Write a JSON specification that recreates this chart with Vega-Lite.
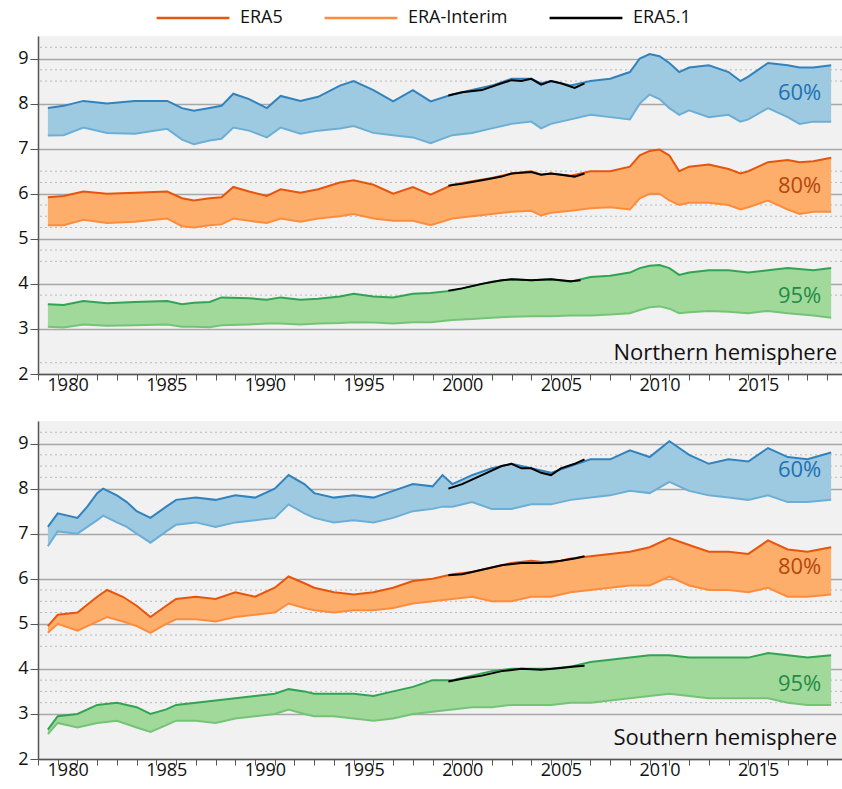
{
"$schema": "https://vega.github.io/schema/vega-lite/v6.json",
"padding": {"left": 17, "top": -20, "right": 0, "bottom": 0},
"config": {"view": {"fill": "#f1f1f1", "stroke": null}, "font": "Open Sans", "concat": {"spacing": 27}},
"datasets": {
"bands": [
{"h":"N","p":"60","t":1979.5,"a":7.9,"b":7.29},{"h":"N","p":"60","t":1980.3,"a":7.95,"b":7.3},{"h":"N","p":"60","t":1981.3,"a":8.06,"b":7.47},{"h":"N","p":"60","t":1982.5,"a":8.0,"b":7.35},{"h":"N","p":"60","t":1983.9,"a":8.06,"b":7.33},{"h":"N","p":"60","t":1985.55,"a":8.06,"b":7.44},{"h":"N","p":"60","t":1986.3,"a":7.9,"b":7.2},{"h":"N","p":"60","t":1986.9,"a":7.84,"b":7.1},{"h":"N","p":"60","t":1987.7,"a":7.9,"b":7.18},{"h":"N","p":"60","t":1988.3,"a":7.95,"b":7.22},{"h":"N","p":"60","t":1988.9,"a":8.22,"b":7.47},{"h":"N","p":"60","t":1989.7,"a":8.1,"b":7.4},{"h":"N","p":"60","t":1990.6,"a":7.9,"b":7.25},{"h":"N","p":"60","t":1991.3,"a":8.17,"b":7.47},{"h":"N","p":"60","t":1992.3,"a":8.06,"b":7.33},{"h":"N","p":"60","t":1993.2,"a":8.15,"b":7.4},{"h":"N","p":"60","t":1994.3,"a":8.4,"b":7.45},{"h":"N","p":"60","t":1995.0,"a":8.5,"b":7.5},{"h":"N","p":"60","t":1996.0,"a":8.3,"b":7.35},{"h":"N","p":"60","t":1997.0,"a":8.05,"b":7.3},{"h":"N","p":"60","t":1998.0,"a":8.3,"b":7.25},{"h":"N","p":"60","t":1998.9,"a":8.05,"b":7.12},{"h":"N","p":"60","t":2000.0,"a":8.2,"b":7.3},{"h":"N","p":"60","t":2001.0,"a":8.3,"b":7.35},{"h":"N","p":"60","t":2002.0,"a":8.4,"b":7.45},{"h":"N","p":"60","t":2003.0,"a":8.55,"b":7.55},{"h":"N","p":"60","t":2004.0,"a":8.55,"b":7.6},{"h":"N","p":"60","t":2004.5,"a":8.45,"b":7.45},{"h":"N","p":"60","t":2005.0,"a":8.5,"b":7.55},{"h":"N","p":"60","t":2006.0,"a":8.4,"b":7.65},{"h":"N","p":"60","t":2007.0,"a":8.5,"b":7.75},{"h":"N","p":"60","t":2008.0,"a":8.55,"b":7.7},{"h":"N","p":"60","t":2009.0,"a":8.7,"b":7.65},{"h":"N","p":"60","t":2009.5,"a":9.0,"b":8.0},{"h":"N","p":"60","t":2010.0,"a":9.1,"b":8.2},{"h":"N","p":"60","t":2010.5,"a":9.05,"b":8.1},{"h":"N","p":"60","t":2011.0,"a":8.9,"b":7.9},{"h":"N","p":"60","t":2011.5,"a":8.7,"b":7.75},{"h":"N","p":"60","t":2012.0,"a":8.8,"b":7.85},{"h":"N","p":"60","t":2013.0,"a":8.85,"b":7.7},{"h":"N","p":"60","t":2014.0,"a":8.7,"b":7.75},{"h":"N","p":"60","t":2014.6,"a":8.5,"b":7.6},{"h":"N","p":"60","t":2015.0,"a":8.6,"b":7.65},{"h":"N","p":"60","t":2016.0,"a":8.9,"b":7.9},{"h":"N","p":"60","t":2017.0,"a":8.85,"b":7.7},{"h":"N","p":"60","t":2017.6,"a":8.8,"b":7.55},{"h":"N","p":"60","t":2018.3,"a":8.8,"b":7.6},{"h":"N","p":"60","t":2019.2,"a":8.85,"b":7.6},
{"h":"N","p":"80","t":1979.5,"a":5.92,"b":5.3},{"h":"N","p":"80","t":1980.3,"a":5.95,"b":5.3},{"h":"N","p":"80","t":1981.3,"a":6.05,"b":5.42},{"h":"N","p":"80","t":1982.5,"a":6.0,"b":5.35},{"h":"N","p":"80","t":1983.9,"a":6.02,"b":5.38},{"h":"N","p":"80","t":1985.55,"a":6.05,"b":5.45},{"h":"N","p":"80","t":1986.3,"a":5.9,"b":5.28},{"h":"N","p":"80","t":1986.9,"a":5.85,"b":5.25},{"h":"N","p":"80","t":1987.7,"a":5.9,"b":5.3},{"h":"N","p":"80","t":1988.3,"a":5.92,"b":5.32},{"h":"N","p":"80","t":1988.9,"a":6.15,"b":5.45},{"h":"N","p":"80","t":1989.7,"a":6.05,"b":5.4},{"h":"N","p":"80","t":1990.6,"a":5.95,"b":5.35},{"h":"N","p":"80","t":1991.3,"a":6.1,"b":5.45},{"h":"N","p":"80","t":1992.3,"a":6.02,"b":5.38},{"h":"N","p":"80","t":1993.2,"a":6.1,"b":5.45},{"h":"N","p":"80","t":1994.3,"a":6.25,"b":5.5},{"h":"N","p":"80","t":1995.0,"a":6.3,"b":5.55},{"h":"N","p":"80","t":1996.0,"a":6.2,"b":5.45},{"h":"N","p":"80","t":1997.0,"a":6.0,"b":5.4},{"h":"N","p":"80","t":1998.0,"a":6.15,"b":5.4},{"h":"N","p":"80","t":1998.9,"a":5.98,"b":5.3},{"h":"N","p":"80","t":2000.0,"a":6.2,"b":5.45},{"h":"N","p":"80","t":2001.0,"a":6.28,"b":5.5},{"h":"N","p":"80","t":2002.0,"a":6.35,"b":5.55},{"h":"N","p":"80","t":2003.0,"a":6.45,"b":5.6},{"h":"N","p":"80","t":2004.0,"a":6.5,"b":5.62},{"h":"N","p":"80","t":2004.5,"a":6.42,"b":5.52},{"h":"N","p":"80","t":2005.0,"a":6.45,"b":5.58},{"h":"N","p":"80","t":2006.0,"a":6.4,"b":5.62},{"h":"N","p":"80","t":2007.0,"a":6.5,"b":5.68},{"h":"N","p":"80","t":2008.0,"a":6.5,"b":5.7},{"h":"N","p":"80","t":2009.0,"a":6.6,"b":5.65},{"h":"N","p":"80","t":2009.5,"a":6.85,"b":5.9},{"h":"N","p":"80","t":2010.0,"a":6.95,"b":6.0},{"h":"N","p":"80","t":2010.5,"a":6.98,"b":6.0},{"h":"N","p":"80","t":2011.0,"a":6.85,"b":5.85},{"h":"N","p":"80","t":2011.5,"a":6.5,"b":5.75},{"h":"N","p":"80","t":2012.0,"a":6.6,"b":5.8},{"h":"N","p":"80","t":2013.0,"a":6.65,"b":5.8},{"h":"N","p":"80","t":2014.0,"a":6.55,"b":5.75},{"h":"N","p":"80","t":2014.6,"a":6.45,"b":5.65},{"h":"N","p":"80","t":2015.0,"a":6.5,"b":5.7},{"h":"N","p":"80","t":2016.0,"a":6.7,"b":5.85},{"h":"N","p":"80","t":2017.0,"a":6.75,"b":5.65},{"h":"N","p":"80","t":2017.6,"a":6.7,"b":5.55},{"h":"N","p":"80","t":2018.3,"a":6.72,"b":5.6},{"h":"N","p":"80","t":2019.2,"a":6.8,"b":5.6},
{"h":"N","p":"95","t":1979.5,"a":3.55,"b":3.05},{"h":"N","p":"95","t":1980.3,"a":3.53,"b":3.03},{"h":"N","p":"95","t":1981.3,"a":3.62,"b":3.1},{"h":"N","p":"95","t":1982.5,"a":3.57,"b":3.07},{"h":"N","p":"95","t":1983.9,"a":3.6,"b":3.08},{"h":"N","p":"95","t":1985.55,"a":3.62,"b":3.1},{"h":"N","p":"95","t":1986.3,"a":3.55,"b":3.05},{"h":"N","p":"95","t":1986.9,"a":3.58,"b":3.05},{"h":"N","p":"95","t":1987.7,"a":3.6,"b":3.04},{"h":"N","p":"95","t":1988.3,"a":3.7,"b":3.08},{"h":"N","p":"95","t":1989.7,"a":3.68,"b":3.1},{"h":"N","p":"95","t":1990.6,"a":3.65,"b":3.12},{"h":"N","p":"95","t":1991.3,"a":3.7,"b":3.12},{"h":"N","p":"95","t":1992.3,"a":3.65,"b":3.1},{"h":"N","p":"95","t":1993.2,"a":3.67,"b":3.12},{"h":"N","p":"95","t":1994.3,"a":3.72,"b":3.13},{"h":"N","p":"95","t":1995.0,"a":3.78,"b":3.15},{"h":"N","p":"95","t":1996.0,"a":3.72,"b":3.14},{"h":"N","p":"95","t":1997.0,"a":3.7,"b":3.12},{"h":"N","p":"95","t":1998.0,"a":3.78,"b":3.15},{"h":"N","p":"95","t":1998.9,"a":3.8,"b":3.15},{"h":"N","p":"95","t":2000.0,"a":3.85,"b":3.2},{"h":"N","p":"95","t":2001.0,"a":3.95,"b":3.22},{"h":"N","p":"95","t":2002.0,"a":4.05,"b":3.25},{"h":"N","p":"95","t":2003.0,"a":4.1,"b":3.27},{"h":"N","p":"95","t":2004.0,"a":4.08,"b":3.28},{"h":"N","p":"95","t":2005.0,"a":4.1,"b":3.28},{"h":"N","p":"95","t":2006.0,"a":4.05,"b":3.3},{"h":"N","p":"95","t":2007.0,"a":4.15,"b":3.3},{"h":"N","p":"95","t":2008.0,"a":4.18,"b":3.32},{"h":"N","p":"95","t":2009.0,"a":4.25,"b":3.35},{"h":"N","p":"95","t":2009.5,"a":4.35,"b":3.42},{"h":"N","p":"95","t":2010.0,"a":4.4,"b":3.48},{"h":"N","p":"95","t":2010.5,"a":4.42,"b":3.5},{"h":"N","p":"95","t":2011.0,"a":4.35,"b":3.45},{"h":"N","p":"95","t":2011.5,"a":4.2,"b":3.35},{"h":"N","p":"95","t":2012.0,"a":4.25,"b":3.37},{"h":"N","p":"95","t":2013.0,"a":4.3,"b":3.4},{"h":"N","p":"95","t":2014.0,"a":4.3,"b":3.38},{"h":"N","p":"95","t":2015.0,"a":4.25,"b":3.35},{"h":"N","p":"95","t":2016.0,"a":4.3,"b":3.4},{"h":"N","p":"95","t":2017.0,"a":4.35,"b":3.35},{"h":"N","p":"95","t":2018.3,"a":4.3,"b":3.3},{"h":"N","p":"95","t":2019.2,"a":4.35,"b":3.25},
{"h":"S","p":"60","t":1979.5,"a":7.15,"b":6.72},{"h":"S","p":"60","t":1980.0,"a":7.45,"b":7.05},{"h":"S","p":"60","t":1981.0,"a":7.35,"b":7.0},{"h":"S","p":"60","t":1981.5,"a":7.6,"b":7.15},{"h":"S","p":"60","t":1982.0,"a":7.9,"b":7.3},{"h":"S","p":"60","t":1982.3,"a":8.0,"b":7.4},{"h":"S","p":"60","t":1983.0,"a":7.85,"b":7.25},{"h":"S","p":"60","t":1983.5,"a":7.7,"b":7.15},{"h":"S","p":"60","t":1984.0,"a":7.5,"b":7.0},{"h":"S","p":"60","t":1984.7,"a":7.35,"b":6.8},{"h":"S","p":"60","t":1985.5,"a":7.6,"b":7.05},{"h":"S","p":"60","t":1986.0,"a":7.75,"b":7.2},{"h":"S","p":"60","t":1987.0,"a":7.8,"b":7.25},{"h":"S","p":"60","t":1988.0,"a":7.75,"b":7.15},{"h":"S","p":"60","t":1989.0,"a":7.85,"b":7.25},{"h":"S","p":"60","t":1990.0,"a":7.8,"b":7.3},{"h":"S","p":"60","t":1991.0,"a":8.0,"b":7.35},{"h":"S","p":"60","t":1991.7,"a":8.3,"b":7.65},{"h":"S","p":"60","t":1992.5,"a":8.1,"b":7.45},{"h":"S","p":"60","t":1993.0,"a":7.9,"b":7.35},{"h":"S","p":"60","t":1994.0,"a":7.8,"b":7.25},{"h":"S","p":"60","t":1995.0,"a":7.85,"b":7.3},{"h":"S","p":"60","t":1996.0,"a":7.8,"b":7.25},{"h":"S","p":"60","t":1997.0,"a":7.95,"b":7.35},{"h":"S","p":"60","t":1998.0,"a":8.1,"b":7.5},{"h":"S","p":"60","t":1999.0,"a":8.05,"b":7.55},{"h":"S","p":"60","t":1999.5,"a":8.3,"b":7.6},{"h":"S","p":"60","t":2000.0,"a":8.1,"b":7.6},{"h":"S","p":"60","t":2001.0,"a":8.3,"b":7.7},{"h":"S","p":"60","t":2002.0,"a":8.45,"b":7.55},{"h":"S","p":"60","t":2003.0,"a":8.55,"b":7.55},{"h":"S","p":"60","t":2004.0,"a":8.45,"b":7.65},{"h":"S","p":"60","t":2005.0,"a":8.35,"b":7.65},{"h":"S","p":"60","t":2006.0,"a":8.5,"b":7.75},{"h":"S","p":"60","t":2007.0,"a":8.65,"b":7.8},{"h":"S","p":"60","t":2008.0,"a":8.65,"b":7.85},{"h":"S","p":"60","t":2009.0,"a":8.85,"b":7.95},{"h":"S","p":"60","t":2010.0,"a":8.7,"b":7.9},{"h":"S","p":"60","t":2011.0,"a":9.05,"b":8.15},{"h":"S","p":"60","t":2011.5,"a":8.9,"b":8.05},{"h":"S","p":"60","t":2012.0,"a":8.75,"b":7.95},{"h":"S","p":"60","t":2013.0,"a":8.55,"b":7.85},{"h":"S","p":"60","t":2014.0,"a":8.65,"b":7.8},{"h":"S","p":"60","t":2015.0,"a":8.6,"b":7.75},{"h":"S","p":"60","t":2016.0,"a":8.9,"b":7.85},{"h":"S","p":"60","t":2017.0,"a":8.7,"b":7.7},{"h":"S","p":"60","t":2018.0,"a":8.65,"b":7.7},{"h":"S","p":"60","t":2019.2,"a":8.8,"b":7.75},
{"h":"S","p":"80","t":1979.5,"a":4.95,"b":4.8},{"h":"S","p":"80","t":1980.0,"a":5.2,"b":5.0},{"h":"S","p":"80","t":1981.0,"a":5.25,"b":4.85},{"h":"S","p":"80","t":1982.0,"a":5.6,"b":5.05},{"h":"S","p":"80","t":1982.5,"a":5.75,"b":5.15},{"h":"S","p":"80","t":1983.3,"a":5.6,"b":5.05},{"h":"S","p":"80","t":1984.0,"a":5.4,"b":4.95},{"h":"S","p":"80","t":1984.7,"a":5.15,"b":4.8},{"h":"S","p":"80","t":1985.5,"a":5.4,"b":5.0},{"h":"S","p":"80","t":1986.0,"a":5.55,"b":5.1},{"h":"S","p":"80","t":1987.0,"a":5.6,"b":5.1},{"h":"S","p":"80","t":1988.0,"a":5.55,"b":5.05},{"h":"S","p":"80","t":1989.0,"a":5.7,"b":5.15},{"h":"S","p":"80","t":1990.0,"a":5.6,"b":5.2},{"h":"S","p":"80","t":1991.0,"a":5.8,"b":5.25},{"h":"S","p":"80","t":1991.7,"a":6.05,"b":5.45},{"h":"S","p":"80","t":1992.5,"a":5.9,"b":5.35},{"h":"S","p":"80","t":1993.0,"a":5.8,"b":5.3},{"h":"S","p":"80","t":1994.0,"a":5.7,"b":5.25},{"h":"S","p":"80","t":1995.0,"a":5.65,"b":5.3},{"h":"S","p":"80","t":1996.0,"a":5.7,"b":5.3},{"h":"S","p":"80","t":1997.0,"a":5.8,"b":5.35},{"h":"S","p":"80","t":1998.0,"a":5.95,"b":5.45},{"h":"S","p":"80","t":1999.0,"a":6.0,"b":5.5},{"h":"S","p":"80","t":2000.0,"a":6.1,"b":5.55},{"h":"S","p":"80","t":2001.0,"a":6.15,"b":5.6},{"h":"S","p":"80","t":2002.0,"a":6.25,"b":5.5},{"h":"S","p":"80","t":2003.0,"a":6.35,"b":5.5},{"h":"S","p":"80","t":2004.0,"a":6.4,"b":5.6},{"h":"S","p":"80","t":2005.0,"a":6.35,"b":5.6},{"h":"S","p":"80","t":2006.0,"a":6.45,"b":5.7},{"h":"S","p":"80","t":2007.0,"a":6.5,"b":5.75},{"h":"S","p":"80","t":2008.0,"a":6.55,"b":5.8},{"h":"S","p":"80","t":2009.0,"a":6.6,"b":5.85},{"h":"S","p":"80","t":2010.0,"a":6.7,"b":5.85},{"h":"S","p":"80","t":2011.0,"a":6.9,"b":6.05},{"h":"S","p":"80","t":2012.0,"a":6.75,"b":5.85},{"h":"S","p":"80","t":2013.0,"a":6.6,"b":5.75},{"h":"S","p":"80","t":2014.0,"a":6.6,"b":5.75},{"h":"S","p":"80","t":2015.0,"a":6.55,"b":5.7},{"h":"S","p":"80","t":2016.0,"a":6.85,"b":5.8},{"h":"S","p":"80","t":2017.0,"a":6.65,"b":5.6},{"h":"S","p":"80","t":2018.0,"a":6.6,"b":5.6},{"h":"S","p":"80","t":2019.2,"a":6.7,"b":5.65},
{"h":"S","p":"95","t":1979.5,"a":2.65,"b":2.55},{"h":"S","p":"95","t":1980.0,"a":2.95,"b":2.8},{"h":"S","p":"95","t":1981.0,"a":3.0,"b":2.7},{"h":"S","p":"95","t":1982.0,"a":3.2,"b":2.8},{"h":"S","p":"95","t":1983.0,"a":3.25,"b":2.85},{"h":"S","p":"95","t":1984.0,"a":3.15,"b":2.7},{"h":"S","p":"95","t":1984.7,"a":3.0,"b":2.6},{"h":"S","p":"95","t":1985.5,"a":3.1,"b":2.75},{"h":"S","p":"95","t":1986.0,"a":3.2,"b":2.85},{"h":"S","p":"95","t":1987.0,"a":3.25,"b":2.85},{"h":"S","p":"95","t":1988.0,"a":3.3,"b":2.8},{"h":"S","p":"95","t":1989.0,"a":3.35,"b":2.9},{"h":"S","p":"95","t":1990.0,"a":3.4,"b":2.95},{"h":"S","p":"95","t":1991.0,"a":3.45,"b":3.0},{"h":"S","p":"95","t":1991.7,"a":3.55,"b":3.1},{"h":"S","p":"95","t":1992.5,"a":3.5,"b":3.0},{"h":"S","p":"95","t":1993.0,"a":3.45,"b":2.95},{"h":"S","p":"95","t":1994.0,"a":3.45,"b":2.95},{"h":"S","p":"95","t":1995.0,"a":3.45,"b":2.9},{"h":"S","p":"95","t":1996.0,"a":3.4,"b":2.85},{"h":"S","p":"95","t":1997.0,"a":3.5,"b":2.9},{"h":"S","p":"95","t":1998.0,"a":3.6,"b":3.0},{"h":"S","p":"95","t":1999.0,"a":3.75,"b":3.05},{"h":"S","p":"95","t":2000.0,"a":3.75,"b":3.1},{"h":"S","p":"95","t":2001.0,"a":3.85,"b":3.15},{"h":"S","p":"95","t":2002.0,"a":3.95,"b":3.15},{"h":"S","p":"95","t":2003.0,"a":4.0,"b":3.2},{"h":"S","p":"95","t":2004.0,"a":4.0,"b":3.2},{"h":"S","p":"95","t":2005.0,"a":4.0,"b":3.2},{"h":"S","p":"95","t":2006.0,"a":4.05,"b":3.25},{"h":"S","p":"95","t":2007.0,"a":4.15,"b":3.25},{"h":"S","p":"95","t":2008.0,"a":4.2,"b":3.3},{"h":"S","p":"95","t":2009.0,"a":4.25,"b":3.35},{"h":"S","p":"95","t":2010.0,"a":4.3,"b":3.4},{"h":"S","p":"95","t":2011.0,"a":4.3,"b":3.45},{"h":"S","p":"95","t":2012.0,"a":4.25,"b":3.4},{"h":"S","p":"95","t":2013.0,"a":4.25,"b":3.35},{"h":"S","p":"95","t":2014.0,"a":4.25,"b":3.35},{"h":"S","p":"95","t":2015.0,"a":4.25,"b":3.35},{"h":"S","p":"95","t":2016.0,"a":4.35,"b":3.35},{"h":"S","p":"95","t":2017.0,"a":4.3,"b":3.25},{"h":"S","p":"95","t":2018.0,"a":4.25,"b":3.2},{"h":"S","p":"95","t":2019.2,"a":4.3,"b":3.2}
],
"e51": [
{"h":"N","p":"60","src":"ERA5.1","t":1999.8,"v":8.18},{"h":"N","p":"60","src":"ERA5.1","t":2000.5,"v":8.25},{"h":"N","p":"60","src":"ERA5.1","t":2001.5,"v":8.3},{"h":"N","p":"60","src":"ERA5.1","t":2002.5,"v":8.45},{"h":"N","p":"60","src":"ERA5.1","t":2003.0,"v":8.52},{"h":"N","p":"60","src":"ERA5.1","t":2003.5,"v":8.5},{"h":"N","p":"60","src":"ERA5.1","t":2004.0,"v":8.55},{"h":"N","p":"60","src":"ERA5.1","t":2004.5,"v":8.42},{"h":"N","p":"60","src":"ERA5.1","t":2005.0,"v":8.5},{"h":"N","p":"60","src":"ERA5.1","t":2005.5,"v":8.45},{"h":"N","p":"60","src":"ERA5.1","t":2006.2,"v":8.35},{"h":"N","p":"60","src":"ERA5.1","t":2006.7,"v":8.45},
{"h":"N","p":"80","src":"ERA5.1","t":1999.8,"v":6.18},{"h":"N","p":"80","src":"ERA5.1","t":2000.5,"v":6.22},{"h":"N","p":"80","src":"ERA5.1","t":2001.5,"v":6.3},{"h":"N","p":"80","src":"ERA5.1","t":2002.5,"v":6.38},{"h":"N","p":"80","src":"ERA5.1","t":2003.0,"v":6.45},{"h":"N","p":"80","src":"ERA5.1","t":2004.0,"v":6.48},{"h":"N","p":"80","src":"ERA5.1","t":2004.5,"v":6.42},{"h":"N","p":"80","src":"ERA5.1","t":2005.0,"v":6.45},{"h":"N","p":"80","src":"ERA5.1","t":2005.5,"v":6.42},{"h":"N","p":"80","src":"ERA5.1","t":2006.2,"v":6.38},{"h":"N","p":"80","src":"ERA5.1","t":2006.7,"v":6.45},
{"h":"N","p":"95","src":"ERA5.1","t":1999.8,"v":3.85},{"h":"N","p":"95","src":"ERA5.1","t":2000.5,"v":3.9},{"h":"N","p":"95","src":"ERA5.1","t":2001.5,"v":4.0},{"h":"N","p":"95","src":"ERA5.1","t":2002.5,"v":4.08},{"h":"N","p":"95","src":"ERA5.1","t":2003.0,"v":4.1},{"h":"N","p":"95","src":"ERA5.1","t":2004.0,"v":4.08},{"h":"N","p":"95","src":"ERA5.1","t":2005.0,"v":4.1},{"h":"N","p":"95","src":"ERA5.1","t":2006.0,"v":4.06},{"h":"N","p":"95","src":"ERA5.1","t":2006.5,"v":4.08},
{"h":"S","p":"60","src":"ERA5.1","t":1999.8,"v":8.0},{"h":"S","p":"60","src":"ERA5.1","t":2000.5,"v":8.1},{"h":"S","p":"60","src":"ERA5.1","t":2001.5,"v":8.3},{"h":"S","p":"60","src":"ERA5.1","t":2002.5,"v":8.5},{"h":"S","p":"60","src":"ERA5.1","t":2003.0,"v":8.55},{"h":"S","p":"60","src":"ERA5.1","t":2003.5,"v":8.45},{"h":"S","p":"60","src":"ERA5.1","t":2004.0,"v":8.45},{"h":"S","p":"60","src":"ERA5.1","t":2004.5,"v":8.35},{"h":"S","p":"60","src":"ERA5.1","t":2005.0,"v":8.3},{"h":"S","p":"60","src":"ERA5.1","t":2005.5,"v":8.45},{"h":"S","p":"60","src":"ERA5.1","t":2006.2,"v":8.55},{"h":"S","p":"60","src":"ERA5.1","t":2006.7,"v":8.65},
{"h":"S","p":"80","src":"ERA5.1","t":1999.8,"v":6.08},{"h":"S","p":"80","src":"ERA5.1","t":2000.5,"v":6.1},{"h":"S","p":"80","src":"ERA5.1","t":2001.5,"v":6.2},{"h":"S","p":"80","src":"ERA5.1","t":2002.5,"v":6.3},{"h":"S","p":"80","src":"ERA5.1","t":2003.5,"v":6.35},{"h":"S","p":"80","src":"ERA5.1","t":2004.5,"v":6.35},{"h":"S","p":"80","src":"ERA5.1","t":2005.5,"v":6.4},{"h":"S","p":"80","src":"ERA5.1","t":2006.2,"v":6.45},{"h":"S","p":"80","src":"ERA5.1","t":2006.7,"v":6.5},
{"h":"S","p":"95","src":"ERA5.1","t":1999.8,"v":3.72},{"h":"S","p":"95","src":"ERA5.1","t":2000.5,"v":3.78},{"h":"S","p":"95","src":"ERA5.1","t":2001.5,"v":3.85},{"h":"S","p":"95","src":"ERA5.1","t":2002.5,"v":3.95},{"h":"S","p":"95","src":"ERA5.1","t":2003.5,"v":4.0},{"h":"S","p":"95","src":"ERA5.1","t":2004.5,"v":3.98},{"h":"S","p":"95","src":"ERA5.1","t":2005.5,"v":4.02},{"h":"S","p":"95","src":"ERA5.1","t":2006.2,"v":4.05},{"h":"S","p":"95","src":"ERA5.1","t":2006.7,"v":4.07}
],
"grid": [
{"h":"N","v":9.25},{"h":"N","v":8.75},{"h":"N","v":8.5},{"h":"N","v":6.5},{"h":"N","v":6.25},{"h":"N","v":5.75},{"h":"N","v":5.5},{"h":"N","v":5.25},{"h":"N","v":4.75},{"h":"N","v":4.5},{"h":"N","v":3.75},{"h":"N","v":2.25},
{"h":"S","v":9.25},{"h":"S","v":8.75},{"h":"S","v":8.5},{"h":"S","v":8.25},{"h":"S","v":5.75},{"h":"S","v":5.5},{"h":"S","v":5.25},{"h":"S","v":4.75},{"h":"S","v":4.5},{"h":"S","v":3.75},{"h":"S","v":3.5},{"h":"S","v":3.25}
],
"pct": [
{"h":"N","txt":"60%","t":2017.6,"v":8.24},{"h":"N","txt":"80%","t":2017.6,"v":6.18},{"h":"N","txt":"95%","t":2017.6,"v":3.72},
{"h":"S","txt":"60%","t":2017.6,"v":8.41},{"h":"S","txt":"80%","t":2017.6,"v":6.27},{"h":"S","txt":"95%","t":2017.6,"v":3.67}
],
"hemi": [
{"h":"N","txt":"Northern hemisphere","t":2019.5,"v":2.47},{"h":"S","txt":"Southern hemisphere","t":2019.5,"v":2.47}
]
},
"vconcat": [
{"width": 804, "height": 338,
 "resolve": {"axis": {"x": "independent"}},
 "layer": [
  {"data": {"name": "grid"}, "transform": [{"filter": "datum.h == 'N'"}], "mark": {"type": "rule", "color": "#b8b8b8", "strokeDash": [2, 3], "strokeWidth": 1},
   "encoding": {"y": {"field": "v", "type": "quantitative", "title": null, "scale": {"domain": [2, 9.5], "nice": false, "zero": false}}}},
  {"data": {"name": "bands"}, "transform": [{"filter": "datum.h == 'N'"}], "mark": {"type": "area", "opacity": 1},
   "encoding": {
    "x": {"field": "t", "type": "quantitative", "title": null, "scale": {"domain": [1979, 2019.75], "nice": false, "zero": false},
      "axis": {"orient": "bottom", "title": null, "values": [1979,1980,1981,1982,1983,1984,1985,1986,1987,1988,1989,1990,1991,1992,1993,1994,1995,1996,1997,1998,1999,2000,2001,2002,2003,2004,2005,2006,2007,2008,2009,2010,2011,2012,2013,2014,2015,2016,2017,2018,2019], "labels": false, "tickSize": 6, "tickColor": "#555", "domainColor": "#555", "domainWidth": 1.5, "grid": false}},
    "y": {"field": "a", "type": "quantitative", "title": null, "scale": {"domain": [2, 9.5], "nice": false, "zero": false},
      "axis": {"title": null, "values": [2,3,4,5,6,7,8,9], "grid": true, "gridColor": "#a8a8a8", "gridWidth": 1.3, "tickSize": 8, "tickColor": "#555", "domainColor": "#555", "domainWidth": 1.5, "labelFontSize": 18, "labelColor": "#111", "labelPadding": 2}},
    "y2": {"field": "b"},
    "fill": {"field": "p", "type": "nominal", "scale": {"domain": ["60","80","95"], "range": ["#9ecae1","#fdae6b","#a1d99b"]}, "legend": null}
   }},
  {"data": {"name": "bands"}, "transform": [{"filter": "datum.h == 'N'"}], "mark": {"type": "line", "strokeWidth": 2},
   "encoding": {
    "x": {"field": "t", "type": "quantitative", "title": null,
      "axis": {"orient": "bottom", "title": null, "values": [1980,1985,1990,1995,2000,2005,2010,2015], "format": "d", "labelOffset": 9.9, "labelFlush": false, "labelOverlap": false, "ticks": false, "domain": false, "labelFontSize": 18, "labelColor": "#111", "labelPadding": 2, "grid": false}},
    "y": {"field": "b", "type": "quantitative", "title": null},
    "stroke": {"field": "p", "type": "nominal", "scale": {"domain": ["ERA5","ERA-Interim","ERA5.1","60","80","95"], "range": ["#e6550d","#fd8d3c","#000000","#6baed6","#fd8d3c","#74c476"]},
      "legend": {"title": null, "values": ["ERA5","ERA-Interim","ERA5.1"], "orient": "none", "legendX": 117, "legendY": -56, "direction": "horizontal", "symbolType": "stroke", "symbolSize": 5300, "symbolStrokeWidth": 2.5, "labelFontSize": 18, "labelColor": "#111", "labelOffset": 9, "columnPadding": 36}}
   }},
  {"data": {"name": "bands"}, "transform": [{"filter": "datum.h == 'N'"}], "mark": {"type": "line", "strokeWidth": 2},
   "encoding": {
    "x": {"field": "t", "type": "quantitative", "title": null, "axis": null},
    "y": {"field": "a", "type": "quantitative", "title": null},
    "color": {"field": "p", "type": "nominal", "scale": {"domain": ["60","80","95","60%","80%","95%"], "range": ["#3182bd","#e6550d","#31a354","#2070b4","#b4470c","#238b45"]}, "legend": null}
   }},
  {"data": {"name": "e51"}, "transform": [{"filter": "datum.h == 'N'"}], "mark": {"type": "line", "strokeWidth": 2},
   "encoding": {
    "x": {"field": "t", "type": "quantitative", "title": null, "axis": null},
    "y": {"field": "v", "type": "quantitative", "title": null},
    "detail": {"field": "p"},
    "stroke": {"field": "src", "type": "nominal", "scale": {"domain": ["ERA5","ERA-Interim","ERA5.1","60","80","95"], "range": ["#e6550d","#fd8d3c","#000000","#6baed6","#fd8d3c","#74c476"]},
      "legend": {"title": null, "values": ["ERA5","ERA-Interim","ERA5.1"], "orient": "none", "legendX": 117, "legendY": -56, "direction": "horizontal", "symbolType": "stroke", "symbolSize": 5300, "symbolStrokeWidth": 2.5, "labelFontSize": 18, "labelColor": "#111", "labelOffset": 9, "columnPadding": 36}}
   }},
  {"data": {"name": "pct"}, "transform": [{"filter": "datum.h == 'N'"}], "mark": {"type": "text", "fontSize": 22, "align": "center", "baseline": "middle"},
   "encoding": {
    "x": {"field": "t", "type": "quantitative", "title": null, "axis": null},
    "y": {"field": "v", "type": "quantitative", "title": null},
    "text": {"field": "txt"},
    "color": {"field": "txt", "type": "nominal", "scale": {"domain": ["60","80","95","60%","80%","95%"], "range": ["#3182bd","#e6550d","#31a354","#2070b4","#b4470c","#238b45"]}, "legend": null}
   }},
  {"data": {"name": "hemi"}, "transform": [{"filter": "datum.h == 'N'"}], "mark": {"type": "text", "fontSize": 22, "align": "right", "baseline": "middle", "color": "#111"},
   "encoding": {
    "x": {"field": "t", "type": "quantitative", "title": null, "axis": null},
    "y": {"field": "v", "type": "quantitative", "title": null},
    "text": {"field": "txt"}
   }},
  {"mark": {"type": "rule", "color": "#555", "strokeWidth": 1.5}, "encoding": {"y": {"datum": 9.5, "type": "quantitative", "title": null}}}
 ]},
{"width": 804, "height": 338,
 "resolve": {"axis": {"x": "independent"}},
 "layer": [
  {"data": {"name": "grid"}, "transform": [{"filter": "datum.h == 'S'"}], "mark": {"type": "rule", "color": "#b8b8b8", "strokeDash": [2, 3], "strokeWidth": 1},
   "encoding": {"y": {"field": "v", "type": "quantitative", "title": null, "scale": {"domain": [2, 9.5], "nice": false, "zero": false}}}},
  {"data": {"name": "bands"}, "transform": [{"filter": "datum.h == 'S'"}], "mark": {"type": "area", "opacity": 1},
   "encoding": {
    "x": {"field": "t", "type": "quantitative", "title": null, "scale": {"domain": [1979, 2019.75], "nice": false, "zero": false},
      "axis": {"orient": "bottom", "title": null, "values": [1979,1980,1981,1982,1983,1984,1985,1986,1987,1988,1989,1990,1991,1992,1993,1994,1995,1996,1997,1998,1999,2000,2001,2002,2003,2004,2005,2006,2007,2008,2009,2010,2011,2012,2013,2014,2015,2016,2017,2018,2019], "labels": false, "tickSize": 6, "tickColor": "#555", "domainColor": "#555", "domainWidth": 1.5, "grid": false}},
    "y": {"field": "a", "type": "quantitative", "title": null, "scale": {"domain": [2, 9.5], "nice": false, "zero": false},
      "axis": {"title": null, "values": [2,3,4,5,6,7,8,9], "grid": true, "gridColor": "#a8a8a8", "gridWidth": 1.3, "tickSize": 8, "tickColor": "#555", "domainColor": "#555", "domainWidth": 1.5, "labelFontSize": 18, "labelColor": "#111", "labelPadding": 2}},
    "y2": {"field": "b"},
    "fill": {"field": "p", "type": "nominal", "scale": {"domain": ["60","80","95"], "range": ["#9ecae1","#fdae6b","#a1d99b"]}, "legend": null}
   }},
  {"data": {"name": "bands"}, "transform": [{"filter": "datum.h == 'S'"}], "mark": {"type": "line", "strokeWidth": 2},
   "encoding": {
    "x": {"field": "t", "type": "quantitative", "title": null,
      "axis": {"orient": "bottom", "title": null, "values": [1980,1985,1990,1995,2000,2005,2010,2015], "format": "d", "labelOffset": 9.9, "labelFlush": false, "labelOverlap": false, "ticks": false, "domain": false, "labelFontSize": 18, "labelColor": "#111", "labelPadding": 2, "grid": false}},
    "y": {"field": "b", "type": "quantitative", "title": null},
    "stroke": {"field": "p", "type": "nominal", "scale": {"domain": ["ERA5","ERA-Interim","ERA5.1","60","80","95"], "range": ["#e6550d","#fd8d3c","#000000","#6baed6","#fd8d3c","#74c476"]},
      "legend": {"title": null, "values": ["ERA5","ERA-Interim","ERA5.1"], "orient": "none", "legendX": 117, "legendY": -56, "direction": "horizontal", "symbolType": "stroke", "symbolSize": 5300, "symbolStrokeWidth": 2.5, "labelFontSize": 18, "labelColor": "#111", "labelOffset": 9, "columnPadding": 36}}
   }},
  {"data": {"name": "bands"}, "transform": [{"filter": "datum.h == 'S'"}], "mark": {"type": "line", "strokeWidth": 2},
   "encoding": {
    "x": {"field": "t", "type": "quantitative", "title": null, "axis": null},
    "y": {"field": "a", "type": "quantitative", "title": null},
    "color": {"field": "p", "type": "nominal", "scale": {"domain": ["60","80","95","60%","80%","95%"], "range": ["#3182bd","#e6550d","#31a354","#2070b4","#b4470c","#238b45"]}, "legend": null}
   }},
  {"data": {"name": "e51"}, "transform": [{"filter": "datum.h == 'S'"}], "mark": {"type": "line", "strokeWidth": 2},
   "encoding": {
    "x": {"field": "t", "type": "quantitative", "title": null, "axis": null},
    "y": {"field": "v", "type": "quantitative", "title": null},
    "detail": {"field": "p"},
    "stroke": {"field": "src", "type": "nominal", "scale": {"domain": ["ERA5","ERA-Interim","ERA5.1","60","80","95"], "range": ["#e6550d","#fd8d3c","#000000","#6baed6","#fd8d3c","#74c476"]},
      "legend": {"title": null, "values": ["ERA5","ERA-Interim","ERA5.1"], "orient": "none", "legendX": 117, "legendY": -56, "direction": "horizontal", "symbolType": "stroke", "symbolSize": 5300, "symbolStrokeWidth": 2.5, "labelFontSize": 18, "labelColor": "#111", "labelOffset": 9, "columnPadding": 36}}
   }},
  {"data": {"name": "pct"}, "transform": [{"filter": "datum.h == 'S'"}], "mark": {"type": "text", "fontSize": 22, "align": "center", "baseline": "middle"},
   "encoding": {
    "x": {"field": "t", "type": "quantitative", "title": null, "axis": null},
    "y": {"field": "v", "type": "quantitative", "title": null},
    "text": {"field": "txt"},
    "color": {"field": "txt", "type": "nominal", "scale": {"domain": ["60","80","95","60%","80%","95%"], "range": ["#3182bd","#e6550d","#31a354","#2070b4","#b4470c","#238b45"]}, "legend": null}
   }},
  {"data": {"name": "hemi"}, "transform": [{"filter": "datum.h == 'S'"}], "mark": {"type": "text", "fontSize": 22, "align": "right", "baseline": "middle", "color": "#111"},
   "encoding": {
    "x": {"field": "t", "type": "quantitative", "title": null, "axis": null},
    "y": {"field": "v", "type": "quantitative", "title": null},
    "text": {"field": "txt"}
   }},
  {"mark": {"type": "rule", "color": "#555", "strokeWidth": 1.5}, "encoding": {"y": {"datum": 9.5, "type": "quantitative", "title": null}}}
 ]}
]
}
